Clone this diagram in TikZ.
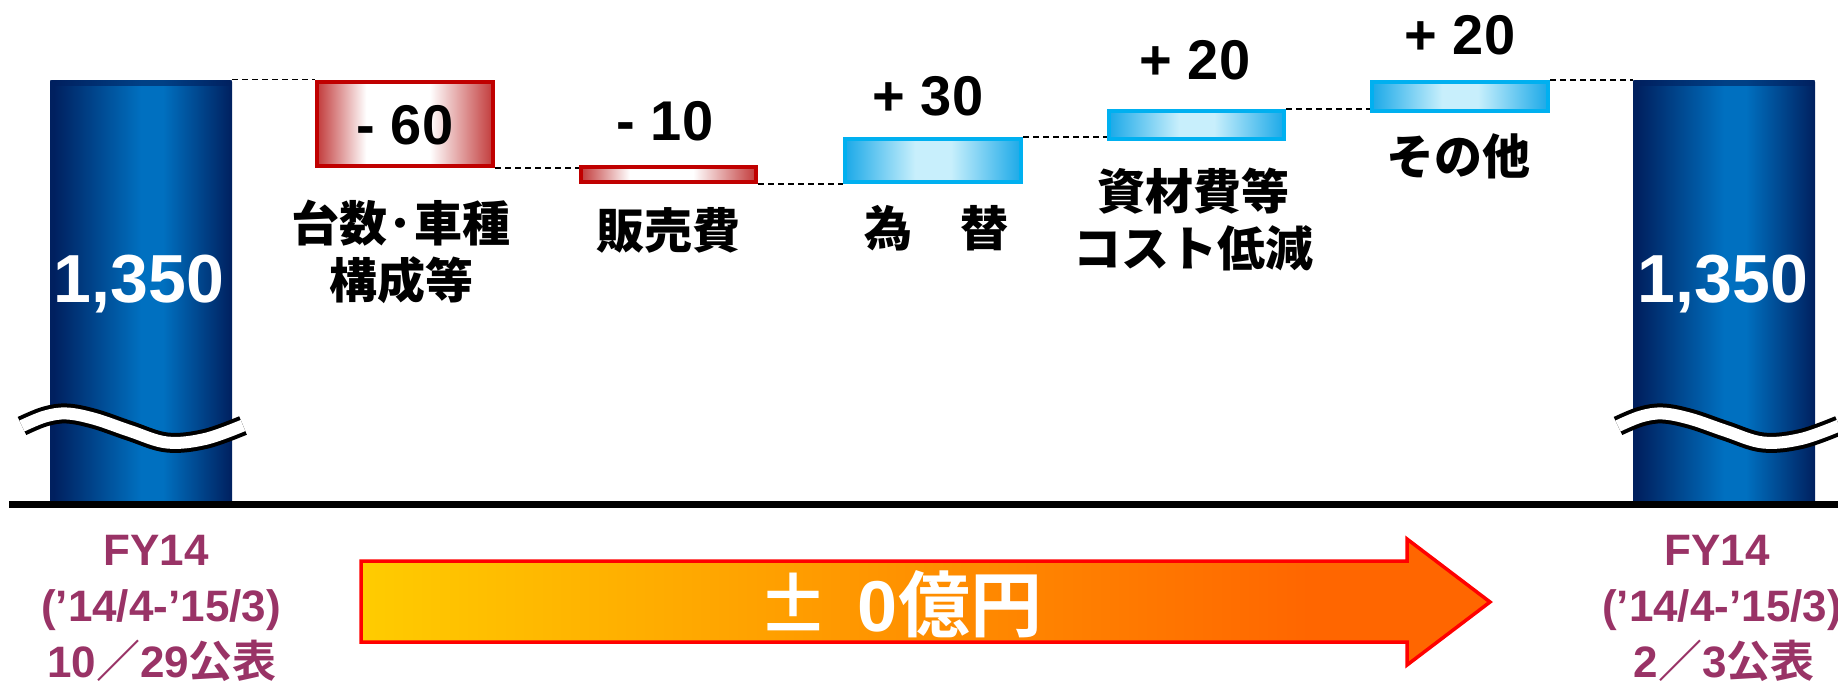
\documentclass[tikz,border=0pt]{standalone}
\usepackage{fontspec}
\setmainfont{Liberation Sans}
\newfontfamily\cjk{Noto Sans CJK JP Black}
\definecolor{navy}{HTML}{00205F}
\definecolor{barblue}{HTML}{0070C0}
\definecolor{redE}{HTML}{C23B3B}
\definecolor{redB}{HTML}{C00000}
\definecolor{cyE}{HTML}{1BA9E8}
\definecolor{cyC}{HTML}{C8EFFC}
\definecolor{cyB}{HTML}{00B0F0}
\definecolor{fyc}{HTML}{993366}
\definecolor{arY}{HTML}{FFCC00}
\definecolor{arO}{HTML}{FF6600}
\definecolor{arB}{HTML}{FF0000}
\pgfdeclarehorizontalshading{barshade}{100bp}{color(0bp)=(navy); color(26bp)=(navy); color(50bp)=(barblue); color(56bp)=(barblue); color(75bp)=(navy); color(100bp)=(navy)}
\pgfdeclarehorizontalshading{redshade}{100bp}{color(0bp)=(redE); color(25bp)=(redE); color(39bp)=(white); color(57bp)=(white); color(75bp)=(redE); color(100bp)=(redE)}
\pgfdeclarehorizontalshading{cyshade}{100bp}{color(0bp)=(cyE); color(25bp)=(cyE); color(45bp)=(cyC); color(55bp)=(cyC); color(75bp)=(cyE); color(100bp)=(cyE)}
\pgfdeclarehorizontalshading{arshade}{100bp}{color(0bp)=(arY); color(25bp)=(arY); color(67bp)=(arO); color(75bp)=(arO); color(100bp)=(arO)}
\begin{document}
\begin{tikzpicture}[x=1pt,y=-1pt,
  bar/.style={shade, shading=barshade, rounded corners=2pt, minimum width=182pt, minimum height=424pt, inner sep=0pt},
  redbox/.style={draw=redB, line width=4pt, shade, shading=redshade, inner sep=0pt},
  cybox/.style={draw=cyB, line width=4pt, shade, shading=cyshade, inner sep=0pt},
  dashline/.style={draw=black, line width=1.3pt, dash pattern=on 6pt off 4pt},
  num/.style={font=\bfseries\fontsize{56}{60}\selectfont, inner sep=0pt},
  barnum/.style={font=\bfseries\fontsize{68}{72}\selectfont, text=white, inner sep=0pt, anchor=base},
  lbl/.style={font=\cjk\fontsize{48}{57}\selectfont, align=center, inner sep=0pt},
  fy/.style={font=\bfseries\fontsize{44}{50}\selectfont, text=fyc, inner sep=0pt, anchor=base},
  brkouter/.style={draw=black, line width=20pt},
  brkinner/.style={draw=white, line width=12pt}
]
\useasboundingbox (0,0) rectangle (1838,685);
% bars
\node[bar] (bar1) at (141,292) {};
\node[bar] (bar2) at (1724,292) {};
\fill[navy, opacity=0.6] (bar1.north west) rectangle ([yshift=-6pt]bar1.north east);
\fill[navy, opacity=0.6] (bar2.north west) rectangle ([yshift=-6pt]bar2.north east);
\node[barnum] (v1) at (139,302) {1,350};
\node[barnum] (v2) at (1723,302) {1,350};
% breaks
\foreach \s in {0,1596} {
  \draw[brkouter, xshift=\s pt] plot[smooth, tension=0.6] coordinates {(22,426) (45,416.5) (67,413.5) (95,419) (130,431) (167,442.5) (205,439) (243,425.5)};
  \draw[brkinner, xshift=\s pt] plot[smooth, tension=0.6] coordinates {(22,426) (45,416.5) (67,413.5) (95,419) (130,431) (167,442.5) (205,439) (243,425.5)};
}
% axis
\coordinate (axL) at (9,504.5);
\coordinate (axR) at (1838,504.5);
\draw[line width=7pt] (axL) -- (axR);
% step boxes
\node[redbox, minimum width=176pt, minimum height=84pt] (b1) at (405,124) {};
\node[redbox, minimum width=175pt, minimum height=15pt] (b2) at (668.5,174.5) {};
\node[cybox, minimum width=176pt, minimum height=43pt] (b3) at (933,160.5) {};
\node[cybox, minimum width=175pt, minimum height=28pt] (b4) at (1196.5,125) {};
\node[cybox, minimum width=176pt, minimum height=29pt] (b5) at (1460,96.5) {};
% dashed connectors
\draw[dashline] (bar1.north east) -- (bar1.north east -| b1.west);
\draw[dashline] (b1.south east) -- (b1.south east -| b2.west);
\draw[dashline] (b2.south east) -- (b2.south east -| b3.west);
\draw[dashline] (b3.north east) -- (b3.north east -| b4.west);
\draw[dashline] (b4.north east) -- (b4.north east -| b5.west);
\draw[dashline] (b5.north east) -- (b5.north east -| bar2.west);
% numbers
\node[num] (n1) at (405,125) {- 60};
\node[num] (n2) at (665,121) {- 10};
\node[num] (n3) at (928,96) {+ 30};
\node[num] (n4) at (1195,60) {+ 20};
\node[num] (n5) at (1460,35) {+ 20};
% labels
\node[lbl] (l1) at (401,251.5) {台数\kern2pt･\kern2pt車種\\構成等};
\node[lbl] (l2) at (668,230) {販売費};
\node[lbl] (l3) at (936,228) {為　替};
\node[lbl] (l4) at (1193,219) {資材費等\\コスト低減};
\node[lbl] (l5) at (1458,156) {その他};
% arrow
\path[draw=arB, line width=3.5pt, shade, shading=arshade] (361,561) -- (1407,561) -- (1407,539) -- (1490,602) -- (1407,665) -- (1407,642) -- (361,642) -- cycle;
\node[font=\bfseries\fontsize{72}{76}\selectfont, text=white, inner sep=0pt] (tot) at (900,604) {{\cjk ±}\hspace{28pt}0{\cjk 億円}};
% FY labels
\node[fy] (f1a) at (156,565) {FY14};
\node[fy] (f1b) at (161,621) {(’14/4-’15/3)};
\node[fy] (f1c) at (162,677) {10{\cjk ／}29{\cjk 公表}};
\node[fy] (f2a) at (1717,565) {FY14};
\node[fy] (f2b) at (1722,621) {(’14/4-’15/3)};
\node[fy] (f2c) at (1724,677) {2{\cjk ／}3{\cjk 公表}};
\end{tikzpicture}
\end{document}
